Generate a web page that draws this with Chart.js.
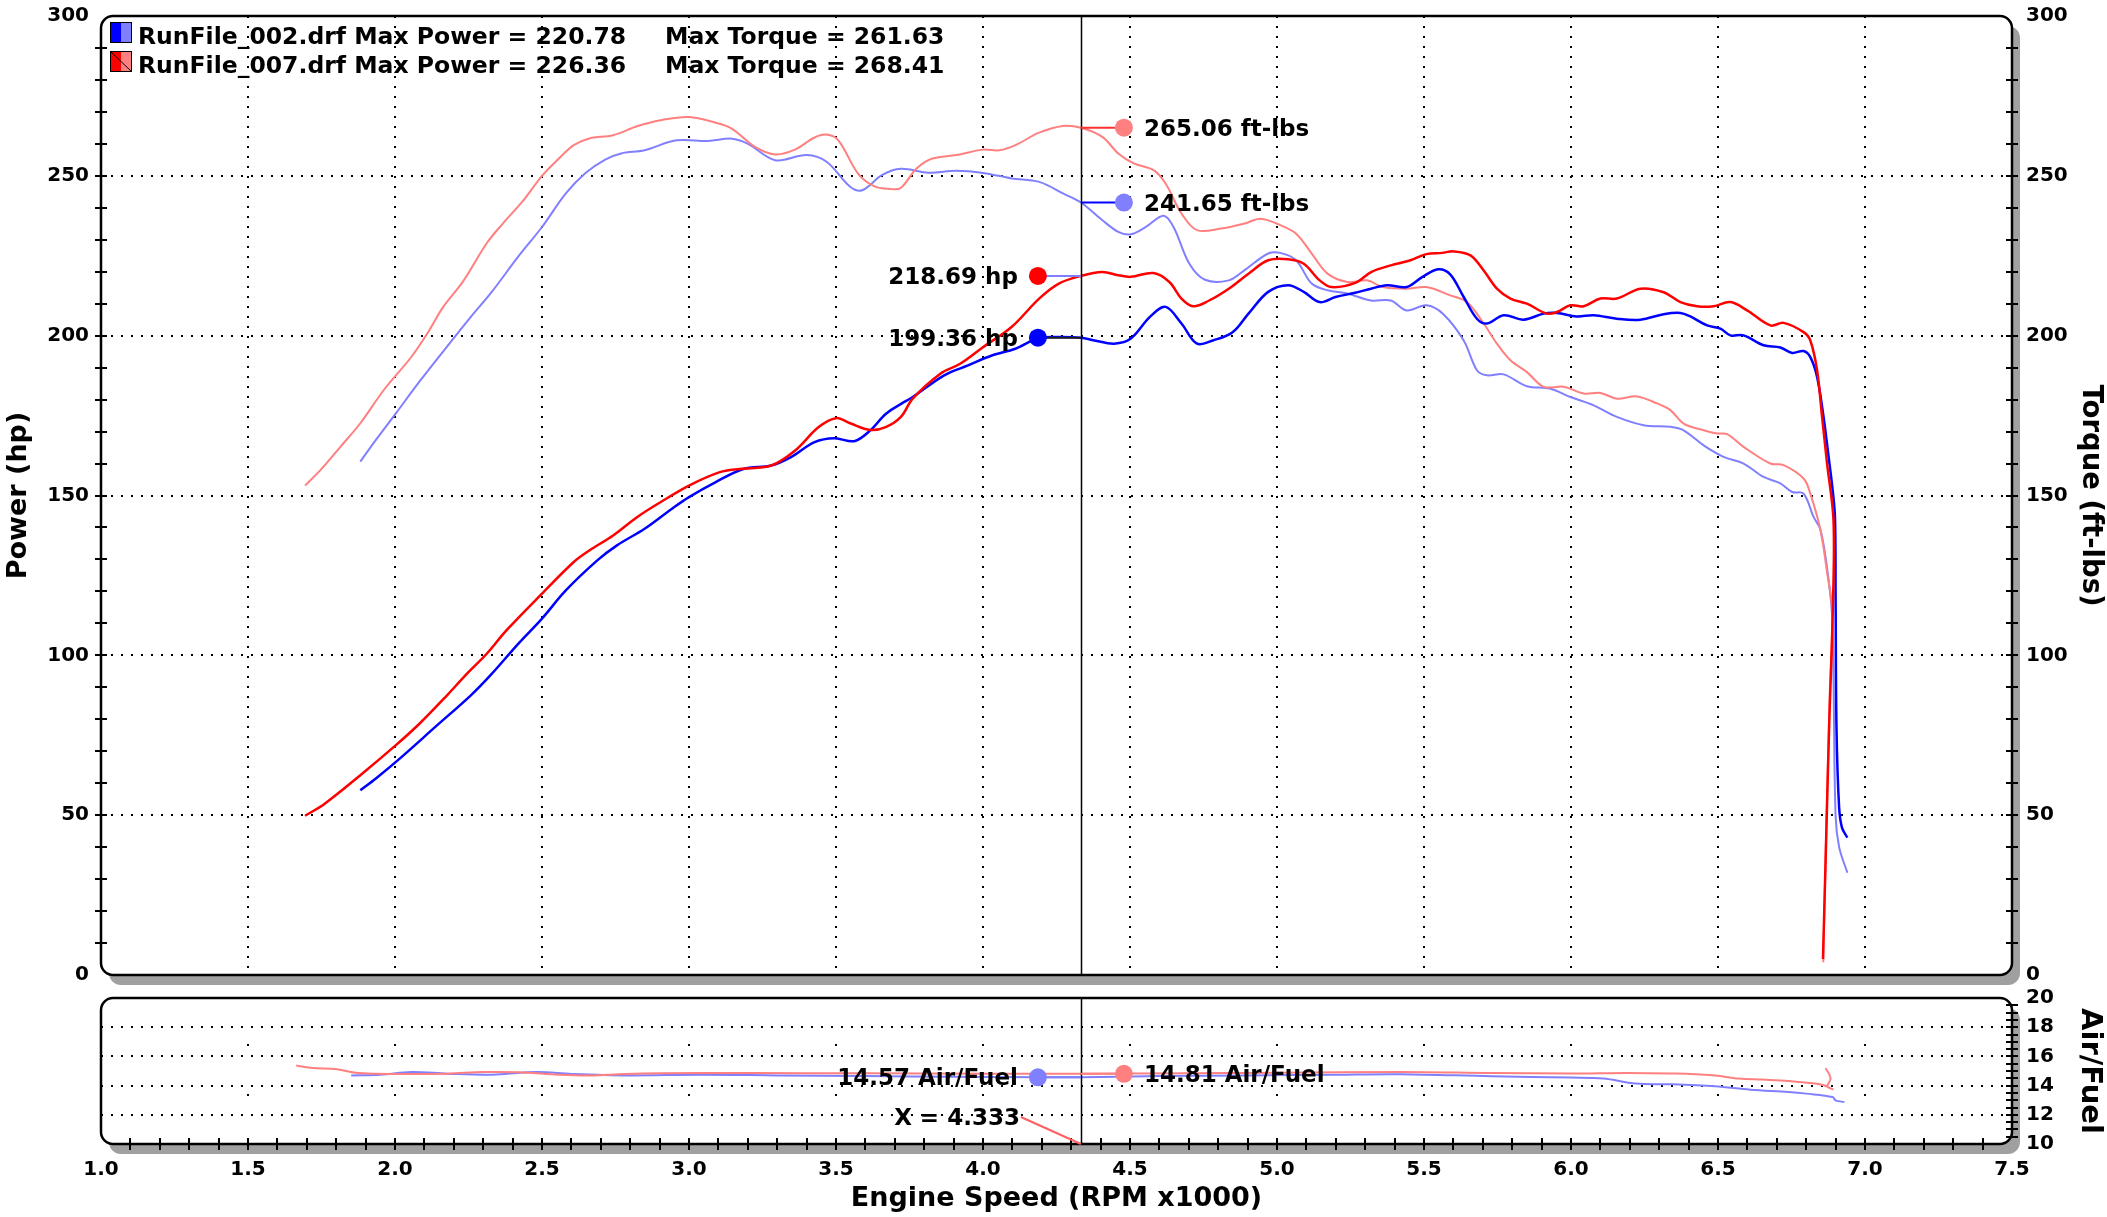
<!DOCTYPE html>
<html>
<head>
<meta charset="utf-8">
<script src="https://cdn.jsdelivr.net/npm/chart.js@4/dist/chart.umd.min.js"></script>
<style>
  html, body { margin: 0; padding: 0; background: #fff; overflow: hidden; }
  #wrap { position: relative; width: 2107px; height: 1217px; }
  #wrap canvas { position: absolute; left: 0; top: 0; }
</style>
</head>
<body>
<div id="wrap">
  <canvas id="dyno" width="2107" height="1217"></canvas>
  <canvas id="afr" width="2107" height="1217"></canvas>
</div>
<script>
// run 002 (blue) power, hp
const rpmPower002 = [1.882, 1.935, 2.016, 2.137, 2.258, 2.325, 2.419, 2.5, 2.581, 2.688, 2.755, 2.849, 2.941, 3.0, 3.091, 3.185, 3.28, 3.347, 3.427, 3.495, 3.562, 3.616, 3.669, 3.72, 3.761, 3.868, 3.949, 4.03, 4.11, 4.188, 4.258, 4.333, 4.379, 4.446, 4.503, 4.567, 4.621, 4.675, 4.728, 4.782, 4.849, 4.903, 4.97, 5.038, 5.091, 5.145, 5.199, 5.266, 5.32, 5.374, 5.441, 5.495, 5.548, 5.589, 5.635, 5.68, 5.714, 5.771, 5.839, 5.907, 5.952, 6.02, 6.077, 6.156, 6.236, 6.315, 6.372, 6.406, 6.463, 6.508, 6.542, 6.587, 6.655, 6.712, 6.752, 6.791, 6.814, 6.837, 6.859, 6.875, 6.89, 6.898, 6.9, 6.903, 6.912, 6.922, 6.94];
const power002 = [57.8, 61.5, 67.7, 77.6, 87.5, 93.8, 103.6, 111.5, 120.3, 129.7, 134.4, 139.6, 145.8, 149.5, 154.2, 158.3, 159.4, 162, 166.7, 167.9, 167, 170.3, 175.5, 178.6, 180.8, 187.6, 190.7, 193.8, 195.9, 199.2, 199.6, 199.36, 198.5, 197.5, 199.1, 205.8, 209, 203.8, 197.5, 198.5, 201.1, 206.9, 213.7, 215.8, 213.7, 210.5, 212.1, 213.4, 214.7, 215.8, 215.2, 218.4, 220.78, 219.2, 212.1, 205.3, 203.8, 206.4, 205, 206.9, 207.1, 206, 206.4, 205.3, 205, 206.7, 207.1, 206, 203.2, 202.2, 200.1, 200.1, 197, 196.3, 194.6, 195.2, 193.3, 187.1, 174.6, 163, 151.7, 143, 119.6, 77.6, 52.4, 46, 43];

// run 002 torque, ft-lbs
const rpmTorque002 = [1.882, 1.935, 2.003, 2.083, 2.177, 2.258, 2.325, 2.419, 2.5, 2.581, 2.648, 2.715, 2.769, 2.849, 2.957, 3.065, 3.145, 3.199, 3.293, 3.4, 3.468, 3.548, 3.589, 3.656, 3.72, 3.815, 3.909, 4.0, 4.097, 4.191, 4.272, 4.333, 4.406, 4.46, 4.503, 4.554, 4.614, 4.648, 4.702, 4.755, 4.836, 4.89, 4.97, 5.011, 5.065, 5.118, 5.172, 5.239, 5.32, 5.387, 5.441, 5.508, 5.565, 5.635, 5.68, 5.714, 5.771, 5.85, 5.93, 5.998, 6.077, 6.156, 6.247, 6.338, 6.383, 6.451, 6.519, 6.587, 6.655, 6.712, 6.752, 6.791, 6.825, 6.848, 6.87, 6.888, 6.893, 6.9, 6.912, 6.94];
const torque002 = [160.6, 167.4, 175.7, 185.6, 196.6, 205.9, 213.2, 224.7, 234, 244.5, 250.9, 255.1, 257, 258, 261.1, 260.9, 261.63, 260.1, 254.9, 256.5, 254.4, 246.6, 245.5, 250.2, 252.2, 251, 251.6, 250.9, 249.2, 248.1, 244.5, 241.65, 236.1, 232.5, 231.7, 234, 237.5, 234, 222.5, 217.5, 217.3, 220.5, 225.7, 225.9, 223.6, 216.3, 214.2, 213.2, 211, 211, 207.9, 209.5, 206.8, 198.5, 189.2, 187.6, 187.9, 184.2, 183.4, 180.8, 178.2, 174.6, 172, 171.5, 170.4, 165.7, 162.1, 160, 155.8, 153.8, 151.1, 150.6, 143.3, 139.4, 128, 112.6, 91.6, 49.7, 40, 32];

// run 007 (red) power, hp
const rpmPower007 = [1.694, 1.761, 1.882, 2.003, 2.083, 2.177, 2.245, 2.312, 2.379, 2.5, 2.608, 2.661, 2.742, 2.823, 2.903, 3.0, 3.105, 3.172, 3.28, 3.36, 3.441, 3.5, 3.548, 3.616, 3.669, 3.72, 3.761, 3.855, 3.922, 4.0, 4.097, 4.191, 4.258, 4.333, 4.406, 4.46, 4.503, 4.58, 4.634, 4.675, 4.715, 4.769, 4.836, 4.903, 4.97, 5.038, 5.091, 5.145, 5.185, 5.266, 5.32, 5.387, 5.454, 5.508, 5.562, 5.6, 5.658, 5.703, 5.748, 5.794, 5.85, 5.918, 5.952, 5.998, 6.043, 6.1, 6.156, 6.236, 6.315, 6.372, 6.429, 6.485, 6.542, 6.599, 6.678, 6.723, 6.791, 6.814, 6.837, 6.854, 6.871, 6.893, 6.89, 6.878, 6.866, 6.857];
const power007 = [49.8, 53.6, 62.5, 71.9, 78.6, 87.5, 94.3, 100.5, 107.8, 119.3, 129.2, 132.8, 137.5, 143.2, 147.9, 153.1, 157.3, 158.3, 159.4, 164, 171.4, 174.2, 172.6, 170.5, 171.4, 174.5, 180.3, 188.1, 191.2, 196.4, 202.7, 211.6, 216.3, 218.69, 219.9, 218.9, 218.4, 219.6, 216.8, 211.6, 209.2, 211, 214.7, 219.4, 223.6, 223.9, 222.5, 217.3, 215.2, 216.5, 219.9, 222, 223.6, 225.5, 225.9, 226.36, 225.1, 220.4, 214.7, 211.6, 210, 206.9, 207.4, 209.5, 209.2, 211.6, 211.6, 214.7, 213.6, 210.5, 209.2, 209.2, 210.5, 207.9, 203.2, 204, 201.1, 198.5, 189.2, 174.6, 160, 142, 112.6, 77.6, 35.7, 5];

// run 007 torque, ft-lbs
const rpmTorque007 = [1.694, 1.747, 1.815, 1.882, 1.962, 2.056, 2.11, 2.164, 2.231, 2.312, 2.366, 2.433, 2.5, 2.554, 2.608, 2.661, 2.742, 2.823, 2.903, 3.0, 3.091, 3.145, 3.226, 3.293, 3.36, 3.427, 3.468, 3.508, 3.575, 3.629, 3.683, 3.72, 3.774, 3.828, 3.909, 4.0, 4.056, 4.11, 4.191, 4.272, 4.333, 4.406, 4.46, 4.513, 4.58, 4.621, 4.675, 4.728, 4.809, 4.89, 4.944, 5.011, 5.065, 5.118, 5.172, 5.239, 5.306, 5.36, 5.441, 5.508, 5.59, 5.646, 5.703, 5.748, 5.794, 5.85, 5.907, 5.975, 6.043, 6.1, 6.156, 6.224, 6.293, 6.338, 6.383, 6.451, 6.497, 6.531, 6.587, 6.678, 6.723, 6.791, 6.814, 6.848, 6.87, 6.888, 6.88, 6.868, 6.858];
const torque007 = [153.1, 158, 165.3, 172.6, 183, 193.4, 200.7, 209, 216.9, 228.9, 235, 241.9, 250, 255.1, 259.6, 261.7, 262.7, 265.5, 267.4, 268.41, 266.6, 264.8, 259, 256.7, 258.2, 262, 262.9, 261.1, 250.7, 246.8, 245.9, 246.2, 252.3, 255.4, 256.5, 258.2, 258, 259.6, 263.5, 265.6, 265.06, 262.2, 257, 253.9, 251.8, 247.6, 238.2, 233, 233.5, 235.1, 236.6, 234.6, 231.9, 225.7, 219.4, 216.8, 217.3, 215.2, 214.7, 215.2, 212.6, 210.5, 203.8, 197.5, 192.3, 188.6, 184, 184, 181.9, 182.1, 180.3, 181, 178.8, 176.7, 172.5, 170.4, 169.4, 169.2, 165.2, 160, 159.5, 155.3, 150.6, 139.4, 126.6, 114, 88, 45, 4];

// air/fuel ratio
const rpmAfr002 = [1.851, 1.95, 2.056, 2.178, 2.33, 2.482, 2.6, 2.786, 3.04, 3.3, 3.6, 3.9, 4.2, 4.333, 4.6, 4.9, 5.2, 5.42, 5.73, 6.0, 6.11, 6.22, 6.34, 6.49, 6.61, 6.74, 6.8, 6.89, 6.9, 6.93];
const afr002 = [14.7, 14.75, 14.93, 14.82, 14.75, 14.93, 14.8, 14.7, 14.75, 14.7, 14.65, 14.6, 14.57, 14.57, 14.65, 14.7, 14.75, 14.78, 14.64, 14.55, 14.48, 14.14, 14.09, 13.95, 13.72, 13.56, 13.45, 13.22, 12.99, 12.87];
const rpmAfr007 = [1.664, 1.72, 1.798, 1.874, 2.026, 2.178, 2.3, 2.421, 2.558, 2.664, 2.786, 3.04, 3.4, 3.8, 4.333, 4.7, 5.0, 5.42, 5.73, 6.0, 6.19, 6.34, 6.48, 6.57, 6.65, 6.74, 6.83, 6.86, 6.89, 6.872, 6.883, 6.866];
const afr007 = [15.38, 15.2, 15.13, 14.86, 14.8, 14.82, 14.93, 14.91, 14.75, 14.7, 14.8, 14.86, 14.85, 14.83, 14.81, 14.85, 14.88, 14.94, 14.87, 14.83, 14.87, 14.83, 14.71, 14.48, 14.41, 14.32, 14.14, 14.02, 13.75, 13.95, 14.5, 15.2];

const runNames = ['RunFile_002.drf', 'RunFile_007.drf'];
const maxPower = [220.78, 226.36];
const maxTorque = [261.63, 268.41];
const cursorRpm = 4.333;
const cursorPower = [199.36, 218.69];
const cursorTorque = [241.65, 265.06];
const cursorAfr = [14.57, 14.81];

const BLUE = '#0000ff', RED = '#ff0000', LBLUE = '#8080ff', PINK = '#ff8080';
const FONT = "'DejaVu Sans', Verdana, sans-serif";

Chart.defaults.font.family = FONT;
Chart.defaults.font.weight = 'bold';
Chart.defaults.font.size = 20;
Chart.defaults.color = '#000';

const pts = (xs, ys) => xs.map((x, i) => ({ x: x, y: ys[i] }));

// fixed axis box, no extra label padding pushed into the chart area
const fixSize = (w, h) => (s) => {
  if (w !== null) s.width = w;
  if (h !== null) s.height = h;
  s.paddingTop = 0; s.paddingBottom = 0; s.paddingLeft = 0; s.paddingRight = 0;
};

function roundRectPath(ctx, x, y, w, h, r) {
  ctx.beginPath();
  ctx.moveTo(x + r, y);
  ctx.arcTo(x + w, y, x + w, y + h, r);
  ctx.arcTo(x + w, y + h, x, y + h, r);
  ctx.arcTo(x, y + h, x, y, r);
  ctx.arcTo(x, y, x + w, y, r);
  ctx.closePath();
}

function panelBack(chart) {
  const { ctx, chartArea: a } = chart;
  ctx.save();
  roundRectPath(ctx, a.left + 8, a.top + 10, a.width, a.height, 12);
  ctx.fillStyle = '#a0a0a0';
  ctx.fill();
  roundRectPath(ctx, a.left, a.top, a.width, a.height, 12);
  ctx.fillStyle = '#fff';
  ctx.fill();
  ctx.restore();
}

function panelBorder(chart) {
  const { ctx, chartArea: a } = chart;
  ctx.save();
  roundRectPath(ctx, a.left, a.top, a.width, a.height, 12);
  ctx.strokeStyle = '#000';
  ctx.lineWidth = 2.5;
  ctx.stroke();
  ctx.restore();
}

// small ticks that cross the frame
function edgeTicks(chart, scaleId, from, to, step, edge) {
  const { ctx, chartArea: a } = chart;
  const s = chart.scales[scaleId];
  const n = Math.round((to - from) / step);
  ctx.save();
  ctx.strokeStyle = '#000';
  ctx.lineWidth = 2;
  ctx.beginPath();
  for (let i = 1; i < n; i++) {
    const p = Math.round(s.getPixelForValue(from + i * step));
    if (edge === 'bottom') {
      ctx.moveTo(p, a.bottom - 6); ctx.lineTo(p, a.bottom + 6);
    } else {
      const x = edge === 'left' ? a.left : a.right;
      ctx.moveTo(x - 6, p); ctx.lineTo(x + 6, p);
    }
  }
  ctx.stroke();
  ctx.restore();
}

function cursorLine(chart) {
  const { ctx, chartArea: a } = chart;
  const x = Math.round(chart.scales.x.getPixelForValue(cursorRpm)) + 0.5;
  ctx.save();
  ctx.strokeStyle = '#000';
  ctx.lineWidth = 1.5;
  ctx.beginPath();
  ctx.moveTo(x, a.top);
  ctx.lineTo(x, a.bottom);
  ctx.stroke();
  ctx.restore();
}

function marker(chart, scaleId, value, side, dotColor, lineColor, text) {
  const ctx = chart.ctx;
  const cx = chart.scales.x.getPixelForValue(cursorRpm);
  const y = chart.scales[scaleId].getPixelForValue(value);
  const dx = cx + side * 43;
  ctx.save();
  ctx.strokeStyle = lineColor;
  ctx.lineWidth = 2;
  ctx.beginPath();
  ctx.moveTo(cx, y);
  ctx.lineTo(dx, y);
  ctx.stroke();
  ctx.fillStyle = dotColor;
  ctx.beginPath();
  ctx.arc(dx, y, 9, 0, Math.PI * 2);
  ctx.fill();
  ctx.fillStyle = '#000';
  ctx.font = 'bold 23px ' + FONT;
  ctx.textAlign = side > 0 ? 'left' : 'right';
  ctx.textBaseline = 'alphabetic';
  ctx.fillText(text, dx + side * 20, y + 8);
  ctx.restore();
}

function legendBox(ctx, x, y, dark, light, slash) {
  ctx.fillStyle = dark;
  ctx.fillRect(x, y, 11, 21);
  ctx.fillStyle = light;
  ctx.fillRect(x + 11, y, 11, 21);
  if (slash) {
    ctx.strokeStyle = '#000';
    ctx.lineWidth = 1;
    ctx.beginPath();
    ctx.moveTo(x, y);
    ctx.lineTo(x + 22, y + 21);
    ctx.stroke();
  }
  ctx.strokeStyle = '#000';
  ctx.lineWidth = 1;
  ctx.strokeRect(x + 0.5, y + 0.5, 21, 20);
}

const noEdge = (lo, hi) => (c) => (c.tick && (c.tick.value === lo || c.tick.value === hi)) ? 'rgba(0,0,0,0)' : '#000';

const dynoFrame = {
  id: 'dynoFrame',
  beforeDraw(chart) { panelBack(chart); },
  afterDraw(chart) {
    const ctx = chart.ctx;
    const a = chart.chartArea;
    cursorLine(chart);
    panelBorder(chart);
    edgeTicks(chart, 'y', 0, 300, 10, 'left');
    edgeTicks(chart, 'y2', 0, 300, 10, 'right');

    // legend
    ctx.save();
    legendBox(ctx, a.left + 9, a.top + 6, BLUE, LBLUE, false);
    legendBox(ctx, a.left + 9, a.top + 35, RED, PINK, true);
    ctx.fillStyle = '#000';
    ctx.font = 'bold 23.5px ' + FONT;
    ctx.textAlign = 'left';
    ctx.textBaseline = 'alphabetic';
    for (let i = 0; i < runNames.length; i++) {
      const by = a.top + 28 + i * 29;
      ctx.fillText(runNames[i] + ' Max Power = ' + maxPower[i].toFixed(2), a.left + 37, by);
      ctx.fillText('Max Torque = ' + maxTorque[i].toFixed(2), a.left + 564, by);
    }
    ctx.restore();

    marker(chart, 'y2', cursorTorque[1], 1, PINK, '#ff3030', cursorTorque[1].toFixed(2) + ' ft-lbs');
    marker(chart, 'y2', cursorTorque[0], 1, LBLUE, BLUE, cursorTorque[0].toFixed(2) + ' ft-lbs');
    marker(chart, 'y', cursorPower[1], -1, RED, LBLUE, cursorPower[1].toFixed(2) + ' hp');
    marker(chart, 'y', cursorPower[0], -1, BLUE, '#202020', cursorPower[0].toFixed(2) + ' hp');
  }
};

const afrFrame = {
  id: 'afrFrame',
  beforeDraw(chart) { panelBack(chart); },
  afterDraw(chart) {
    const ctx = chart.ctx;
    const a = chart.chartArea;
    cursorLine(chart);
    panelBorder(chart);
    edgeTicks(chart, 'x', 1, 7.5, 0.1, 'bottom');
    edgeTicks(chart, 'y', 10, 20, 0.5, 'right');

    marker(chart, 'y', cursorAfr[0], -1, LBLUE, LBLUE, cursorAfr[0].toFixed(2) + ' Air/Fuel');
    marker(chart, 'y', cursorAfr[1], 1, PINK, PINK, cursorAfr[1].toFixed(2) + ' Air/Fuel');

    // cursor readout
    const cx = chart.scales.x.getPixelForValue(cursorRpm);
    ctx.save();
    ctx.font = 'bold 23px ' + FONT;
    ctx.fillStyle = '#000';
    ctx.textAlign = 'right';
    ctx.textBaseline = 'alphabetic';
    const tx = cx - 61;
    ctx.fillText('X = ' + cursorRpm.toFixed(3), tx, a.bottom - 19);
    ctx.strokeStyle = '#ff6060';
    ctx.lineWidth = 2;
    ctx.beginPath();
    ctx.moveTo(tx + 1, a.bottom - 27);
    ctx.lineTo(cx, a.bottom);
    ctx.stroke();
    ctx.restore();
  }
};

new Chart(document.getElementById('dyno'), {
  type: 'line',
  data: {
    datasets: [
      { label: 'Power 007', data: pts(rpmPower007, power007), borderColor: RED, borderWidth: 2.5, yAxisID: 'y' },
      { label: 'Power 002', data: pts(rpmPower002, power002), borderColor: BLUE, borderWidth: 2.5, yAxisID: 'y' },
      { label: 'Torque 007', data: pts(rpmTorque007, torque007), borderColor: PINK, borderWidth: 2, yAxisID: 'y2' },
      { label: 'Torque 002', data: pts(rpmTorque002, torque002), borderColor: LBLUE, borderWidth: 2, yAxisID: 'y2' }
    ]
  },
  options: {
    responsive: false,
    animation: false,
    parsing: false,
    elements: { point: { radius: 0 }, line: { tension: 0.35, fill: false } },
    layout: { padding: { top: 16, bottom: 242, left: 0, right: 0 } },
    plugins: { legend: { display: false }, tooltip: { enabled: false } },
    scales: {
      x: {
        type: 'linear', min: 1, max: 7.5,
        ticks: { display: false, stepSize: 0.5 },
        grid: { drawTicks: false, color: noEdge(1, 7.5), lineWidth: 2 },
        border: { display: false, dash: [2, 8] },
        afterFit: fixSize(null, 0)
      },
      y: {
        position: 'left', min: 0, max: 300,
        ticks: { stepSize: 50, padding: 12 },
        title: { display: true, text: 'Power (hp)', font: { size: 27, weight: 'bold' }, padding: { top: 3, bottom: 0 } },
        grid: { drawTicks: false, color: noEdge(0, 300), lineWidth: 2 },
        border: { display: false, dash: [2, 8] },
        afterFit: fixSize(101, null)
      },
      y2: {
        position: 'right', min: 0, max: 300,
        ticks: { stepSize: 50, padding: 14 },
        title: { display: true, text: 'Torque (ft-lbs)', font: { size: 27.5, weight: 'bold' }, padding: { top: 0, bottom: 0 } },
        grid: { display: false, drawTicks: false },
        border: { display: false },
        afterFit: fixSize(95, null)
      }
    }
  },
  plugins: [dynoFrame]
});

new Chart(document.getElementById('afr'), {
  type: 'line',
  data: {
    datasets: [
      { label: 'AFR 007', data: pts(rpmAfr007, afr007), borderColor: PINK, borderWidth: 2 },
      { label: 'AFR 002', data: pts(rpmAfr002, afr002), borderColor: LBLUE, borderWidth: 2 }
    ]
  },
  options: {
    responsive: false,
    animation: false,
    parsing: false,
    elements: { point: { radius: 0 }, line: { tension: 0.35, fill: false } },
    layout: { padding: { top: 998, bottom: 0, left: 101, right: 0 } },
    plugins: { legend: { display: false }, tooltip: { enabled: false } },
    scales: {
      x: {
        type: 'linear', min: 1, max: 7.5,
        ticks: { stepSize: 0.5, autoSkip: false, maxRotation: 0, padding: 14, callback: (v) => v.toFixed(1) },
        title: { display: true, text: 'Engine Speed (RPM x1000)', font: { size: 27, weight: 'bold' }, padding: { top: 0, bottom: 2 } },
        grid: { drawTicks: false, color: noEdge(1, 7.5), lineWidth: 2 },
        border: { display: false, dash: [2, 48], dashOffset: 4 },
        afterFit: fixSize(null, 73)
      },
      y: {
        position: 'right', min: 10, max: 20,
        ticks: { stepSize: 2, padding: 14 },
        title: { display: true, text: 'Air/Fuel', font: { size: 29, weight: 'bold' }, padding: { top: 0, bottom: 0 } },
        grid: { drawTicks: false, color: noEdge(10, 20), lineWidth: 2 },
        border: { display: false, dash: [2, 8] },
        afterFit: fixSize(95, null)
      }
    }
  },
  plugins: [afrFrame]
});
</script>
</body>
</html>
